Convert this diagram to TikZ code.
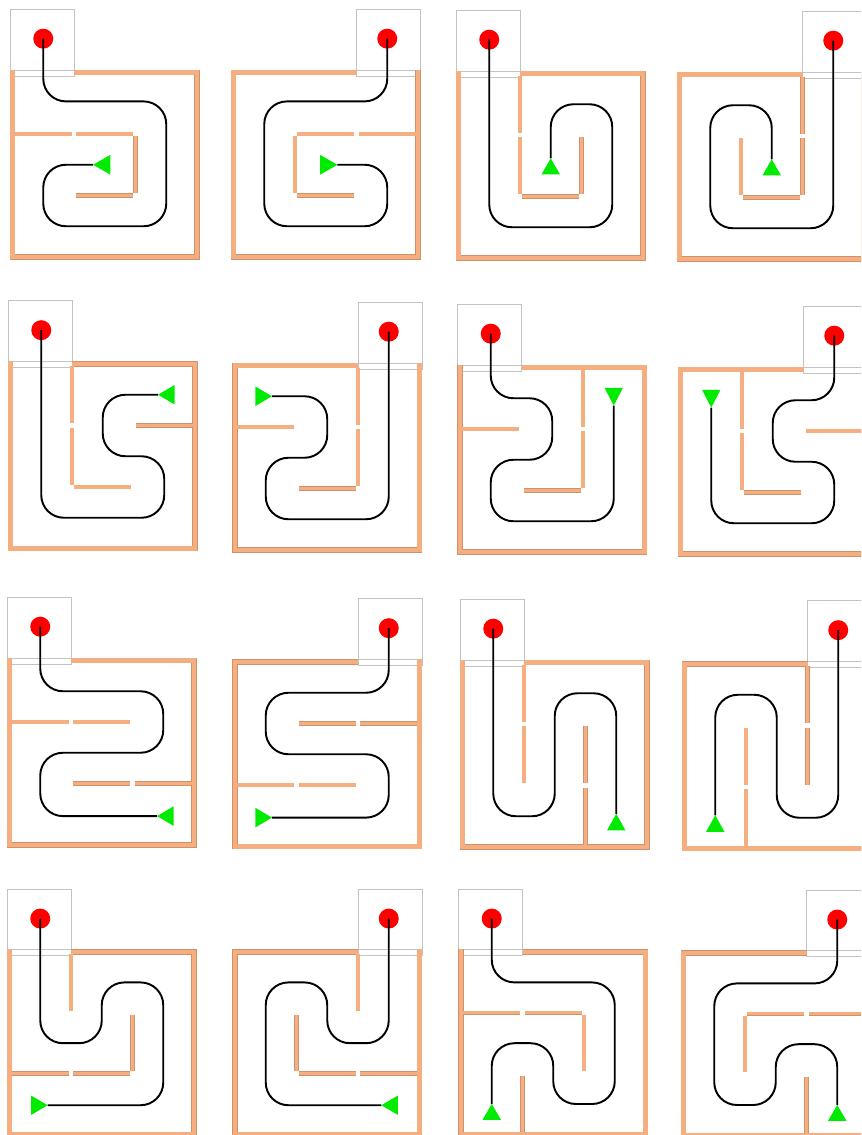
\documentclass[tikz,border=0pt]{standalone}
\definecolor{wallfill}{RGB}{244,174,128}
\definecolor{walledge}{RGB}{205,145,108}
\definecolor{boxgray}{RGB}{195,195,195}
\definecolor{dotred}{RGB}{255,0,0}
\definecolor{goalgreen}{RGB}{0,235,0}
\tikzset{
  owE/.style={line width=4.2pt, draw=walledge, line join=miter},
  owF/.style={line width=3.2pt, draw=wallfill, line join=miter},
  iwE/.style={line width=3.2pt, draw=walledge, shorten <=1.6pt, shorten >=1.6pt},
  iwF/.style={line width=2.3pt, draw=wallfill, shorten <=1.6pt, shorten >=1.6pt},
  boxline/.style={draw=boxgray, line width=0.6pt},
  routeline/.style={draw=black, line width=1.45pt, rounded corners=17pt},
  goal/.style={fill=goalgreen},
  startdot/.style={fill=dotred},
  panelN/.style 2 args={shift={(#1,#2)}, x=46.125pt, y=-46.125pt},
  panelM/.style 2 args={shift={(#1,#2)}, x=-46.125pt, y=-46.125pt},
}
\newcommand\panelbase{%
  \draw[boxline] (-0.04,-1.03) rectangle (1,0.06);
  \draw[boxline] (0.04,-0.04) -- (1,-0.04);
  \draw[owE] (1,0) -- (3,0) -- (3,3) -- (0,3) -- (0,-0.045);
  \draw[owF] (1,0) -- (3,0) -- (3,3) -- (0,3) -- (0,-0.045);
  \fill[startdot] (0.5,-0.55) circle[radius=7.5pt];
}
\newcommand\innerwalls[1]{%
  \foreach \a/\b in {#1} {\draw[iwE] (\a) -- (\b);}
  \foreach \a/\b in {#1} {\draw[iwF] (\a) -- (\b);}
}
% maze A
\newcommand\mazeA{%
  \panelbase
  \innerwalls{{0,1}/{1,1},{1,1}/{2,1},{2,1}/{2,2},{1,2}/{2,2}}
  \draw[routeline] (0.5,-0.55) -- (0.5,0.47) -- (2.5,0.47) -- (2.5,2.5) -- (0.5,2.5) -- (0.5,1.5) -- (1.31,1.5);
  \fill[goal] (1.31,1.5) -- (1.59,1.34) -- (1.59,1.66) -- cycle;
}
% maze B
\newcommand\mazeB{%
  \panelbase
  \innerwalls{{1,0}/{1,1},{1,1}/{1,2},{1,2}/{2,2},{2,1}/{2,2}}
  \draw[routeline] (0.5,-0.55) -- (0.5,2.5) -- (2.5,2.5) -- (2.5,0.5) -- (1.5,0.5) -- (1.5,1.38);
  \fill[goal] (1.5,1.38) -- (1.35,1.64) -- (1.65,1.64) -- cycle;
}
% maze C
\newcommand\mazeC{%
  \panelbase
  \innerwalls{{1,0}/{1,1},{1,1}/{1,2},{1,2}/{2,2},{2,1}/{3,1}}
  \draw[routeline] (0.5,-0.55) -- (0.5,2.5) -- (2.5,2.5) -- (2.5,1.5) -- (1.5,1.5) -- (1.5,0.5) -- (2.4,0.5);
  \fill[goal] (2.4,0.5) -- (2.67,0.34) -- (2.67,0.66) -- cycle;
}
% maze D
\newcommand\mazeD{%
  \panelbase
  \innerwalls{{2,0}/{2,1},{2,1}/{2,2},{1,2}/{2,2},{0,1}/{1,1}}
  \draw[routeline] (0.5,-0.55) -- (0.5,0.5) -- (1.5,0.5) -- (1.5,1.5) -- (0.5,1.5) -- (0.5,2.5) -- (2.5,2.5) -- (2.5,0.62);
  \fill[goal] (2.5,0.62) -- (2.35,0.33) -- (2.65,0.33) -- cycle;
}
% maze E
\newcommand\mazeE{%
  \panelbase
  \innerwalls{{0,1}/{1,1},{1,1}/{2,1},{1,2}/{2,2},{2,2}/{3,2}}
  \draw[routeline] (0.5,-0.55) -- (0.5,0.5) -- (2.5,0.5) -- (2.5,1.5) -- (0.5,1.5) -- (0.5,2.53) -- (2.4,2.53);
  \fill[goal] (2.4,2.53) -- (2.67,2.37) -- (2.67,2.69) -- cycle;
}
% maze F
\newcommand\mazeF{%
  \panelbase
  \innerwalls{{1,0}/{1,1},{1,1}/{1,2},{2,1}/{2,2},{2,2}/{2,3}}
  \draw[routeline] (0.5,-0.55) -- (0.5,2.5) -- (1.5,2.5) -- (1.5,0.5) -- (2.5,0.5) -- (2.5,2.46);
  \fill[goal] (2.5,2.46) -- (2.35,2.73) -- (2.65,2.73) -- cycle;
}
% maze G
\newcommand\mazeG{%
  \panelbase
  \innerwalls{{1,0}/{1,1},{2,1}/{2,2},{0,2}/{1,2},{1,2}/{2,2}}
  \draw[routeline] (0.5,-0.55) -- (0.5,1.5) -- (1.5,1.5) -- (1.5,0.5) -- (2.5,0.5) -- (2.5,2.52) -- (0.62,2.52);
  \fill[goal] (0.62,2.52) -- (0.35,2.36) -- (0.35,2.68) -- cycle;
}
% maze H
\newcommand\mazeH{%
  \panelbase
  \innerwalls{{0,1}/{1,1},{1,1}/{2,1},{2,1}/{2,2},{1,2}/{1,3}}
  \draw[routeline] (0.5,-0.55) -- (0.5,0.5) -- (2.5,0.5) -- (2.5,2.5) -- (1.5,2.5) -- (1.5,1.5) -- (0.5,1.5) -- (0.5,2.5);
  \fill[goal] (0.5,2.5) -- (0.35,2.76) -- (0.65,2.76) -- cycle;
}
\begin{document}
\begin{tikzpicture}[x=0.75pt, y=-0.75pt]
\useasboundingbox (0,0) rectangle (861,1135);
\clip (0,0) rectangle (861,1135);
% row 1
\begin{scope}[panelN={12.5}{72.5}] \mazeA \end{scope}
\begin{scope}[panelM={418}{72.5}] \mazeA \end{scope}
\begin{scope}[panelN={458.5}{73.5}] \mazeB \end{scope}
\begin{scope}[panelM={864}{74.5}] \mazeB \end{scope}
% row 2
\begin{scope}[panelN={10.5}{364}] \mazeC \end{scope}
\begin{scope}[panelM={419.5}{365.5}] \mazeC \end{scope}
\begin{scope}[panelN={460}{367.5}] \mazeD \end{scope}
\begin{scope}[panelM={865}{369.5}] \mazeD \end{scope}
% row 3
\begin{scope}[panelN={9.5}{660.5}] \mazeE \end{scope}
\begin{scope}[panelM={419.5}{662}] \mazeE \end{scope}
\begin{scope}[panelN={462.5}{662.5}] \mazeF \end{scope}
\begin{scope}[panelM={869}{664}] \mazeF \end{scope}
% row 4
\begin{scope}[panelN={9.5}{952}, y=-45.6pt] \mazeG \end{scope}
\begin{scope}[panelM={419.5}{952}, y=-45.6pt] \mazeG \end{scope}
\begin{scope}[panelN={461}{952}, y=-45.6pt] \mazeH \end{scope}
\begin{scope}[panelM={868}{953}, y=-45.6pt] \mazeH \end{scope}
\end{tikzpicture}
\end{document}
